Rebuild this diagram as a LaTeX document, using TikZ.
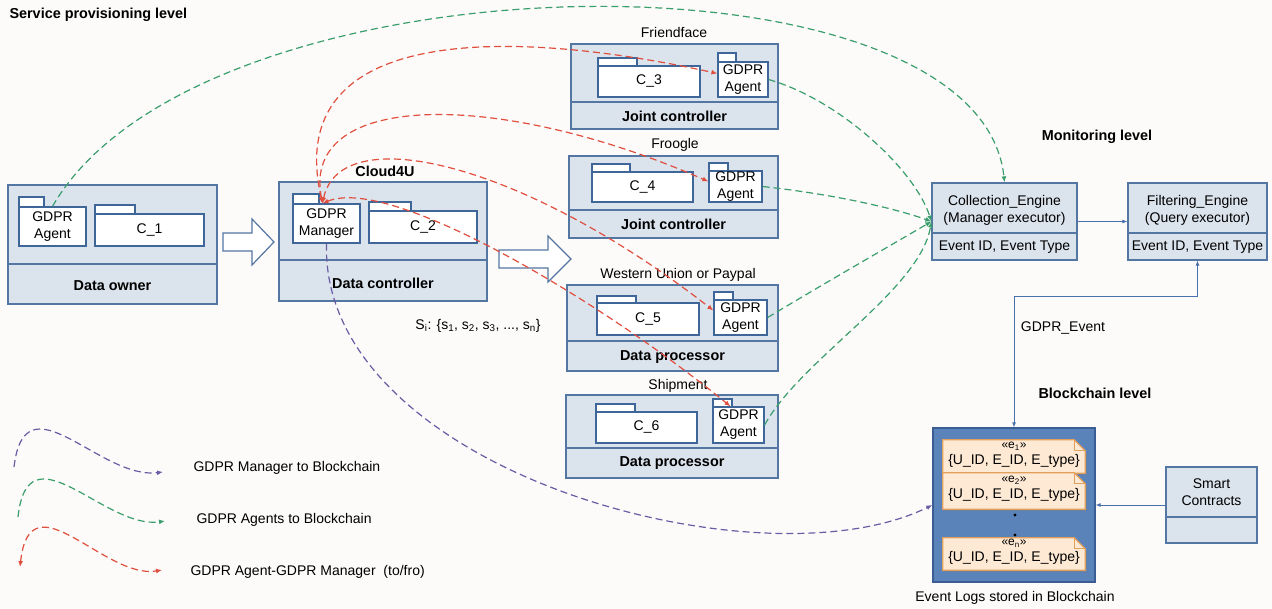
\documentclass[tikz,border=0pt]{standalone}
\usepackage{fontspec}
\setmainfont{Liberation Sans}
\usetikzlibrary{arrows.meta,positioning,calc,shadows}

\definecolor{unitfill}{RGB}{219,227,237}
\definecolor{unitline}{RGB}{84,118,162}
\definecolor{pkgline}{RGB}{62,102,152}
\definecolor{agentgreen}{RGB}{58,158,108}
\definecolor{tofrored}{RGB}{224,78,62}
\definecolor{mgrpurple}{RGB}{104,92,164}
\definecolor{monblue}{RGB}{72,112,170}
\definecolor{chainfill}{RGB}{90,131,186}
\definecolor{chainline}{RGB}{58,94,148}
\definecolor{notefill}{RGB}{253,233,212}
\definecolor{noteline}{RGB}{226,160,92}
\definecolor{paper}{RGB}{253,251,250}

\newcommand{\txt}{\fontsize{14}{17}\selectfont}
\newcommand{\lbl}{\fontsize{14.4}{17}\selectfont\bfseries}
\newcommand{\stereo}[1]{{\fontsize{12}{12}\selectfont «e\textsubscript{#1}»}}

\begin{document}
\begin{tikzpicture}[x=1pt,y=-1pt,
    every node/.style={font=\txt},
    unit/.style={draw=unitline,fill=unitfill,line width=1.2pt,inner sep=0pt,align=center},
    split/.style={draw=unitline,line width=1.2pt},
    pkg/.style={draw=pkgline,fill=white,line width=1.2pt,inner sep=0pt,align=center},
    tab/.style={draw=pkgline,fill=white,line width=1.2pt},
    role/.style={font=\lbl},
    hollow/.style={draw=unitline,fill=white,line width=1.2pt},
    flow/.style={line width=1.2pt,dash pattern=on 7pt off 4pt},
    tofro/.style={flow,tofrored,{Latex[length=6pt,width=5pt]}-{Latex[length=6pt,width=5pt]}},
    toengine/.style={flow,agentgreen,-{Latex[length=6pt,width=5pt]}},
    tochain/.style={flow,mgrpurple,-{Latex[length=6pt,width=5pt]}},
    link/.style={monblue,line width=0.9pt},
    tip/.style={-{Latex[length=5pt,width=4pt]}},
    notebody/.style={fill=notefill,draw=noteline,line width=1.2pt,
        drop shadow={opacity=0.45,shadow xshift=2pt,shadow yshift=-2pt}}]

    \useasboundingbox[fill=paper] (0,0) rectangle (1272,609);

    % Service provisioning level
    \node[role,anchor=west] (splevel) at (6,15) {Service provisioning level};

    % Data owner
    \node[unit,minimum width=209pt,minimum height=119pt] (owner) at (112.5,244.5) {};
    \draw[split] (8,264) -- (217,264);
    \node[role] (ownerlbl) at (112.5,286) {Data owner};
    \draw[tab] (19,197) rectangle (44,207);
    \node[pkg,minimum width=67pt,minimum height=39pt] (agent0) at (52.5,226.5) {GDPR\\Agent};
    \draw[tab] (95,205) rectangle (135,214);
    \node[pkg,minimum width=109pt,minimum height=32pt] (c1) at (149.5,230) {C\_1};

    \draw[hollow] (223,233) -- (252,233) -- (252,219) -- (274,242) -- (252,265) -- (252,251) -- (223,251) -- cycle;

    % Data controller (Cloud4U)
    \node[role] (cloud) at (385,171) {Cloud4U};
    \node[unit,minimum width=208pt,minimum height=119pt] (ctrl) at (383,241.5) {};
    \draw[split] (279,260) -- (487,260);
    \node[role] (ctrllbl) at (383,283) {Data controller};
    \draw[tab] (293,194) rectangle (319,204);
    \node[pkg,minimum width=67pt,minimum height=39pt] (manager) at (326.5,223.5) {GDPR\\Manager};
    \draw[tab] (369,202) rectangle (411,211);
    \node[pkg,minimum width=108pt,minimum height=32pt] (c2) at (423,227) {C\_2};

    \draw[hollow] (499,250) -- (548,250) -- (548,236) -- (571,259) -- (548,282) -- (548,268) -- (499,268) -- cycle;
    \node (slist) at (478,326) {S\textsubscript{i}: \{s\textsubscript{1}, s\textsubscript{2}, s\textsubscript{3}, ..., s\textsubscript{n}\}};

    % Friendface
    \node (ffname) at (674,33) {Friendface};
    \node[unit,minimum width=207pt,minimum height=85pt] (ff) at (674.5,86.5) {};
    \draw[split] (571,102) -- (778,102);
    \node[role] (fflbl) at (674.5,116) {Joint controller};
    \draw[tab] (598,58) rectangle (637,66);
    \node[pkg,minimum width=102pt,minimum height=31pt] (c3) at (649,81.5) {C\_3};
    \draw[tab] (718,53) rectangle (736,62);
    \node[pkg,minimum width=50pt,minimum height=35pt] (agent1) at (743,79.5) {GDPR\\Agent};

    % Froogle
    \node (frname) at (675,145) {Froogle};
    \node[unit,minimum width=209pt,minimum height=82pt] (fr) at (673.5,197) {};
    \draw[split] (569,210) -- (778,210);
    \node[role] (frlbl) at (673.5,224) {Joint controller};
    \draw[tab] (592,164) rectangle (630,172);
    \node[pkg,minimum width=101pt,minimum height=30pt] (c4) at (642.5,187) {C\_4};
    \draw[tab] (709,163) rectangle (728,171);
    \node[pkg,minimum width=53pt,minimum height=31pt] (agent2) at (735.5,186.5) {GDPR\\Agent};

    % Western Union or Paypal
    \node (wuname) at (678,275) {Western Union or Paypal};
    \node[unit,minimum width=211pt,minimum height=86pt] (wu) at (672.5,328) {};
    \draw[split] (567,341) -- (778,341);
    \node[role] (wulbl) at (672.5,357) {Data processor};
    \draw[tab] (597,296) rectangle (636,303);
    \node[pkg,minimum width=102pt,minimum height=32pt] (c5) at (648,319) {C\_5};
    \draw[tab] (714,292) rectangle (733,300);
    \node[pkg,minimum width=53pt,minimum height=35pt] (agent3) at (740.5,317.5) {GDPR\\Agent};

    % Shipment
    \node (shname) at (678,386) {Shipment};
    \node[unit,minimum width=212pt,minimum height=83pt] (sh) at (672,436.5) {};
    \draw[split] (566,448) -- (778,448);
    \node[role] (shlbl) at (672,463) {Data processor};
    \draw[tab] (596,404) rectangle (635,412);
    \node[pkg,minimum width=101pt,minimum height=31pt] (c6) at (646.5,427.5) {C\_6};
    \draw[tab] (713,399) rectangle (732,407);
    \node[pkg,minimum width=51pt,minimum height=36pt] (agent4) at (738.5,425) {GDPR\\Agent};

    % Monitoring level
    \node[role] (monlevel) at (1097,137) {Monitoring level};
    \node[unit,minimum width=145pt,minimum height=77pt] (coll) at (1004.5,221.5) {};
    \draw[split] (932,233) -- (1077,233);
    \node[align=center] (colltxt) at (1004.5,210.5) {Collection\_Engine\\(Manager executor)};
    \node (collev) at (1004.5,247) {Event ID, Event Type};
    \node[unit,minimum width=139pt,minimum height=77pt] (filt) at (1197.5,221.5) {};
    \draw[split] (1128,233) -- (1267,233);
    \node[align=center] (filttxt) at (1197.5,210.5) {Filtering\_Engine\\(Query executor)};
    \node (filtev) at (1197.5,247) {Event ID, Event Type};
    \draw[link,tip] (coll.east) -- (filt.west);

    % Blockchain level
    \node[role] (chainlevel) at (1095,393) {Blockchain level};
    \node[draw=chainline,fill=chainfill,line width=1.2pt,minimum width=162pt,minimum height=154pt] (chain) at (1014,505) {};
    \foreach \i/\y/\h in {1/456.5/33,2/491/36,n/554/32} {
        \node[inner sep=0pt,minimum width=142pt,minimum height=\h pt] (note\i) at (1014,\y) {};
        \draw[notebody] (note\i.south west) -- (note\i.north west) -- ([xshift=-11pt]note\i.north east)
            -- ([yshift=-11pt]note\i.north east) -- (note\i.south east) -- cycle;
        \draw[noteline,line width=1pt] ([xshift=-11pt]note\i.north east) -- ([xshift=-11pt,yshift=-11pt]note\i.north east)
            -- ([yshift=-11pt]note\i.north east);
        \node[align=center,yshift=2pt] (log\i) at (note\i) {\stereo{\i}\\[-1pt]\{U\_ID, E\_ID, E\_type\}};
    }
    \fill (1015,515) circle (1.6pt) (1015,535) circle (1.6pt);
    \node (chainlbl) at (1015,598) {Event Logs stored in Blockchain};

    \node[unit,minimum width=91pt,minimum height=76pt] (smart) at (1211.5,505) {};
    \draw[split] (1166,517) -- (1257,517);
    \node[align=center] (smarttxt) at (1211.5,492) {Smart\\Contracts};
    \draw[link,tip] (smart.west) -- (chain.east);

    \draw[link,{Latex[length=5pt,width=4pt]}-{Latex[length=5pt,width=4pt]}] (filt.south) -- ++(0,36) -| (chain.north);
    \node (evlbl) at (1063,328) {GDPR\_Event};

    % GDPR Agents to Collection_Engine
    \draw[toengine] (agent0.north) .. controls (200,-50) and (980,-60) .. (coll.north);
    \draw[toengine] (agent1.east) .. controls (840,100) and (915,170) .. (coll.west);
    \draw[toengine] (agent2.east) .. controls (840,195) and (900,210) .. (coll.west);
    \draw[toengine] (agent3.east) .. controls (830,280) and (900,240) .. (coll.west);
    \draw[toengine] (agent4.east) .. controls (800,360) and (920,290) .. (coll.west);

    % GDPR Manager to/fro GDPR Agents
    \draw[tofro] ([xshift=-4pt]manager.north) .. controls (280,20) and (520,30) .. ([yshift=6pt]agent1.west);
    \draw[tofro] ([xshift=-4pt]manager.north) .. controls (300,90) and (500,90) .. ([yshift=5pt]agent2.west);
    \draw[tofro] ([xshift=-4pt]manager.north) .. controls (340,120) and (520,160) .. ([yshift=7pt]agent3.west);
    \draw[tofro] ([xshift=-4pt]manager.north) .. controls (390,175) and (600,300) .. ([xshift=-8pt]agent4.north);

    % GDPR Manager to Blockchain
    \draw[tochain] (manager.south) .. controls (320,470) and (760,590) .. (chain.west);

    % Legend
    \coordinate (lgm0) at (14,467);  \coordinate (lgm1) at (163,472);
    \coordinate (lga0) at (18,517);  \coordinate (lga1) at (165,521);
    \coordinate (lgt0) at (20,567);  \coordinate (lgt1) at (162,570);
    \draw[tochain] (lgm0) .. controls (25,375) and (100,480) .. (lgm1);
    \draw[toengine] (lga0) .. controls (28,425) and (105,530) .. (lga1);
    \draw[tofro] (lgt0) .. controls (30,475) and (105,580) .. (lgt1);
    \node[anchor=west] (lgmtxt) at (190,468) {GDPR Manager to Blockchain};
    \node[anchor=west] (lgatxt) at (193,520) {GDPR Agents to Blockchain};
    \node[anchor=west] (lgttxt) at (187,572) {GDPR Agent-GDPR Manager\ \ (to/fro)};

\end{tikzpicture}
\end{document}
